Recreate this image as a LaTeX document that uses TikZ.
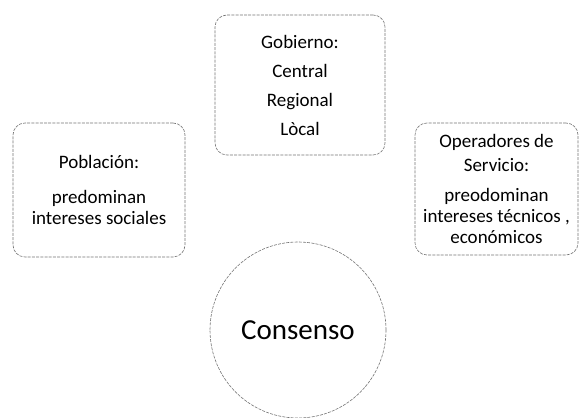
\documentclass[tikz,border=0pt]{standalone}
\usepackage{fontspec}
\setmainfont{Carlito}

\begin{document}
\begin{tikzpicture}
[x=1pt, y=1pt,
 box/.style = {draw=black!55, line width=0.6pt, dash pattern=on 3pt off 1.2pt,
   rounded corners=12pt, align=center, inner sep=0pt,
   font=\fontsize{19}{21}\selectfont},
 ring/.style = {draw=black!55, line width=0.6pt, dash pattern=on 3pt off 1.2pt,
   circle, inner sep=0pt, minimum size=176pt,
   font=\fontsize{29}{32}\selectfont}]
\useasboundingbox (0,0) rectangle (580,417);

\node [box, minimum width=170pt, minimum height=140pt] (gob) at (300,332)
	{Gobierno:\\[8pt] Central\\[8pt] Regional\\[8pt] Lòcal};
\node [box, minimum width=172pt, minimum height=134pt] (pob) at (99,227)
	{Población:\\[14pt] predominan\\ intereses sociales};
\node [box, minimum width=163pt, minimum height=132pt] (ope) at (496.5,228)
	{Operadores de\\[3pt] Servicio:\\[9pt] preodominan\\ intereses técnicos ,\\ económicos};

\node [ring] (con) at (298,87) {Consenso};
\end{tikzpicture}
\end{document}
